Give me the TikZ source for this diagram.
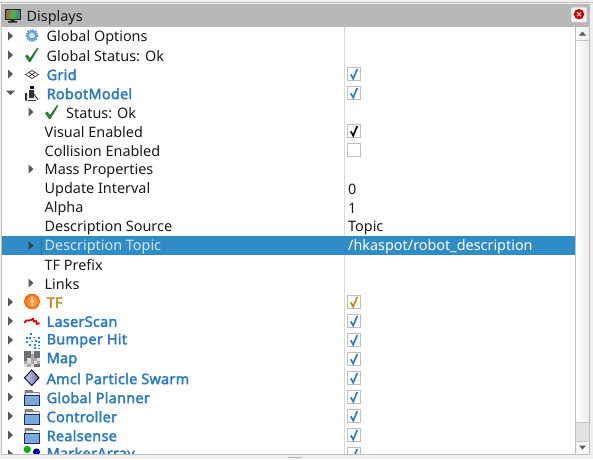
\documentclass[tikz,border=0pt]{standalone}
\usepackage{fontspec}
\setmainfont{Noto Sans}
\newfontfamily\heavyfont[FakeBold=2.6,LetterSpace=2]{Noto Sans}
\definecolor{titlegray}{HTML}{B8B8B8}
\definecolor{pagebg}{HTML}{EFEFEF}
\definecolor{framegray}{HTML}{BEBEBE}
\definecolor{rvizblue}{HTML}{2D7CC4}
\definecolor{dotblue}{HTML}{1E88E5}
\definecolor{rvizorange}{HTML}{C18A15}
\definecolor{selblue}{HTML}{308CC6}
\definecolor{seltext}{HTML}{D4E6F2}
\definecolor{darktext}{HTML}{1A1A1A}
\definecolor{okgreen}{HTML}{2E7D32}
\definecolor{mapdark}{HTML}{6E6E6E}
\definecolor{mapmid}{HTML}{A8A8A8}
\definecolor{maplight}{HTML}{DCDCDC}
\tikzset{x=1pt,y=-1pt,
 rowtext/.style={anchor=west,inner sep=0pt,yshift=-1.5pt,font=\fontsize{14.4}{16}\selectfont,text=darktext},
 bluetext/.style={anchor=west,inner sep=0pt,yshift=-0.7pt,text=rvizblue,font=\fontsize{14.4}{16}\heavyfont},
 orangetext/.style={bluetext,text=rvizorange},
 chkbox/.style={draw=framegray,line width=0.9pt,fill=white},
 tick/.style={line width=1.7pt,line join=miter},
 arrowtri/.style={fill=black!65,draw=none}}
\newcommand{\expR}[2]{\fill[arrowtri] (#1-2.5,#2-4.5) -- (#1+2.5,#2) -- (#1-2.5,#2+4.5) -- cycle;}
\newcommand{\chk}[2]{%
 \draw[chkbox] (347.5,#1-6.5) rectangle (360.5,#1+6.5);
 \draw[tick,draw=#2] (350.8,#1+0.3) -- (353.2,#1+4.6) -- (357.3,#1-5);}
\newcommand{\greentick}[2]{\fill[okgreen] (#1-7,#2+1) -- (#1-4.5,#2-0.5) -- (#1-2,#2+3) -- (#1+5,#2-7) -- (#1+6.5,#2-6.5) -- (#1-1.5,#2+7) -- (#1-3,#2+7) -- cycle;}
\newcommand{\folder}[1]{%
 \fill[black!50] (24.5,#1-7) -- (32,#1-7) -- (34,#1-5) -- (39.5,#1-5) -- (39.5,#1+8) -- (24.5,#1+8) -- cycle;
 \fill[black!8] (25.5,#1-4) rectangle (38.5,#1-2);
 \draw[black!60!blue!70!gray,fill=rvizblue!65,line width=0.9pt] (24.5,#1-2) rectangle (39.5,#1+8);}
\begin{document}
\begin{tikzpicture}
\useasboundingbox (0,0) rectangle (593,459);
\fill[pagebg] (0,0) rectangle (593,459);
\draw[black!25,line width=0.8pt] (0,2.5) -- (593,2.5);
\fill[titlegray] (1,4) rectangle (590,27);
\node[rowtext] (title) at (26.5,16) {Displays};
\draw[black!85,line width=0.9pt,left color=red!60!black!70,right color=blue!50!black!60,middle color=green!50!gray] (5,9) rectangle (20,19.5);
\fill[black!85] (10.5,19.5) rectangle (14.5,21) (8,21) rectangle (17,22.5);
\draw[black!25,fill=black!4,rounded corners=1.5pt,line width=0.7pt] (571,7) rectangle (587,22.5);
\fill[red!80!black] (579,14.2) circle (5.2);
\draw[white!85!red,line width=1pt] (577,12.2) -- (581,16.2) (577,16.2) -- (581,12.2);
\fill[white] (1,27) rectangle (575.5,454);
\shade[left color=white,right color=black!8] (576,27) rectangle (589,441);
\fill[black!12] (576,422) rectangle (589,441);
\fill[black!3] (576,441) rectangle (589,454);
\draw[black!22,line width=0.7pt] (576,40.5) -- (589,40.5) (576,422) -- (589,422) (576,441) -- (589,441);
\fill[black!65] (582.5,31.5) -- (586,35.5) -- (579,35.5) -- cycle;
\fill[black!65] (582.5,449.5) -- (586,445.5) -- (579,445.5) -- cycle;
\draw[framegray,line width=1pt] (1,27) -- (1,454) -- (589.5,454) -- (589.5,4);
\draw[framegray,line width=0.8pt] (575.5,27) -- (575.5,454);
\draw[black!15,line width=0.8pt] (344.5,27) -- (344.5,454);
\fill[selblue] (1.5,235.5) rectangle (575,255);
\draw[selblue!80!black,line width=0.5pt] (41.5,235.5) -- (41.5,255);
\begin{scope}
\clip (0,27) rectangle (593,453.5);
\expR{10.5}{36}\expR{10.5}{55}\expR{10.5}{74}
\fill[arrowtri] (6,90.5) -- (15,90.5) -- (10.5,95) -- cycle;
\expR{10.5}{302}\expR{10.5}{321}\expR{10.5}{340}\expR{10.5}{359}\expR{10.5}{378}\expR{10.5}{397}\expR{10.5}{416}\expR{10.5}{435}\expR{10.5}{454}
\expR{31}{112}\expR{31}{169}\expR{31}{283}
\fill[black!75] (28.5,241) -- (33.5,245.5) -- (28.5,250) -- cycle;
\node[rowtext] (n1) at (46.5,36) {Global Options};
\node[rowtext] (n2) at (46.5,55) {Global Status: Ok};
\node[bluetext] (n3) at (46.5,74) {Grid};
\node[bluetext] (n4) at (46.5,93) {RobotModel};
\node[rowtext] (n5) at (66,112) {Status: Ok};
\node[rowtext] (n6) at (44.5,131) {Visual Enabled};
\node[rowtext] (n7) at (44.5,150) {Collision Enabled};
\node[rowtext] (n8) at (44.5,169) {Mass Properties};
\node[rowtext] (n9) at (44.5,188) {Update Interval};
\node[rowtext] (n10) at (44.5,207) {Alpha};
\node[rowtext] (n11) at (44.5,226) {Description Source};
\node[rowtext,text=seltext] (n12) at (44.5,245) {Description Topic};
\node[rowtext] (n13) at (44.5,264) {TF Prefix};
\node[rowtext] (n14) at (44.5,283) {Links};
\node[orangetext] (n15) at (46.5,302) {TF};
\node[bluetext] (n16) at (46.5,321) {LaserScan};
\node[bluetext] (n17) at (46.5,340) {Bumper Hit};
\node[bluetext] (n18) at (46.5,359) {Map};
\node[bluetext] (n19) at (46.5,378) {Amcl Particle Swarm};
\node[bluetext] (n20) at (46.5,397) {Global Planner};
\node[bluetext] (n21) at (46.5,416) {Controller};
\node[bluetext] (n22) at (46.5,435) {Realsense};
\node[bluetext] (n23) at (46.5,454) {MarkerArray};
\node[rowtext] (v1) at (348,188) {0};
\node[rowtext] (v2) at (348,207) {1};
\node[rowtext] (v3) at (348,226) {Topic};
\node[rowtext,text=white] (v4) at (348,245) {/hkaspot/robot\_description};
\chk{74}{rvizblue}\chk{93}{rvizblue}\chk{131}{black}
\draw[chkbox] (347.5,143.5) rectangle (360.5,156.5);
\chk{302}{rvizorange}
\chk{321}{rvizblue}\chk{340}{rvizblue}\chk{359}{rvizblue}\chk{378}{rvizblue}\chk{397}{rvizblue}\chk{416}{rvizblue}\chk{435}{rvizblue}\chk{454}{rvizblue}
% gear
\draw[rvizblue!85,line width=1.6pt,dash pattern=on 1.7pt off 0.9pt] (32,35.5) circle (5.6);
\fill[rvizblue!70] (32,35.5) circle (5.2);
\fill[rvizblue!18] (32,35.5) circle (2.8);
\greentick{32}{55}
\greentick{52}{112}
% grid
\draw[black!70,line width=0.8pt] (25.5,74.5) -- (32,70.5) -- (38.5,74.5) -- (32,78.5) -- cycle (29,72.5) -- (35,76.5) (35,72.5) -- (29,76.5);
% robot
\fill[blue!50!black] (29.5,86) rectangle (33.5,88.5);
\fill[black!80] (29,90) rectangle (34,98) (25,93) rectangle (27,100.5);
\draw[black!80,line width=0.9pt] (33,93) -- (38,99.5) (28,100.5) -- (36,100.5);
% TF warning
\shade[inner color=orange!55,outer color=orange!85!red] (32,301.5) circle (7.5);
\draw[orange!70!red!90!black,line width=0.5pt] (32,301.5) circle (7.5);
\fill[white!75!orange] (31,296.5) rectangle (33.2,302.5) (31,304) rectangle (33.2,306);
% laser
\draw[red!90!black,line width=1.8pt] (24.5,323) -- (26,320.5) -- (29,320.5) -- (31,320) -- (33,318.8) -- (34,321.5) -- (36,321) -- (37,324) -- (39.5,323);
% bumper
\foreach \a/\b in {30/333,25.5/337,29/337,33/336.5,37.5/337,26/341,31/340.5,34.5/340,38/341,29/344,33.5/344,37.5/344.5,33.5/347,37.5/347.5}
 \fill[dotblue] (\a,\b) rectangle +(2,1.9);
% map
\foreach \r/\row in {0/{d,d,l,d,d},1/{d,d,m,d,d},2/{d,l,m,m,l},3/{m,l,m,l,m},4/{l,m,l,d,d}}
 \foreach \c [count=\i from 0] in \row {
  \ifx\c d\def\cc{mapdark}\fi
  \if m\c\def\cc{mapmid}\fi
  \if l\c\def\cc{maplight}\fi
  \if d\c\def\cc{mapdark}\fi
  \fill[\cc] (24.2+3.2*\i,351.2+3.2*\r) rectangle +(3.2,3.2);
 }
% swarm
\draw[black!50!blue!60!black,left color=rvizblue!25,right color=blue!30!black!60,line width=0.9pt] (31.8,370) -- (39,377.8) -- (31.8,385.5) -- (24.5,377.8) -- cycle;
\folder{397}\folder{416}\folder{435}
% marker array
\fill[green!70!black] (27.3,449.5) circle (3.6);
\fill[blue!70!black] (36.5,452) circle (3.6);
\end{scope}
\fill[black!30] (288,457) rectangle (302,458);
\end{tikzpicture}
\end{document}
